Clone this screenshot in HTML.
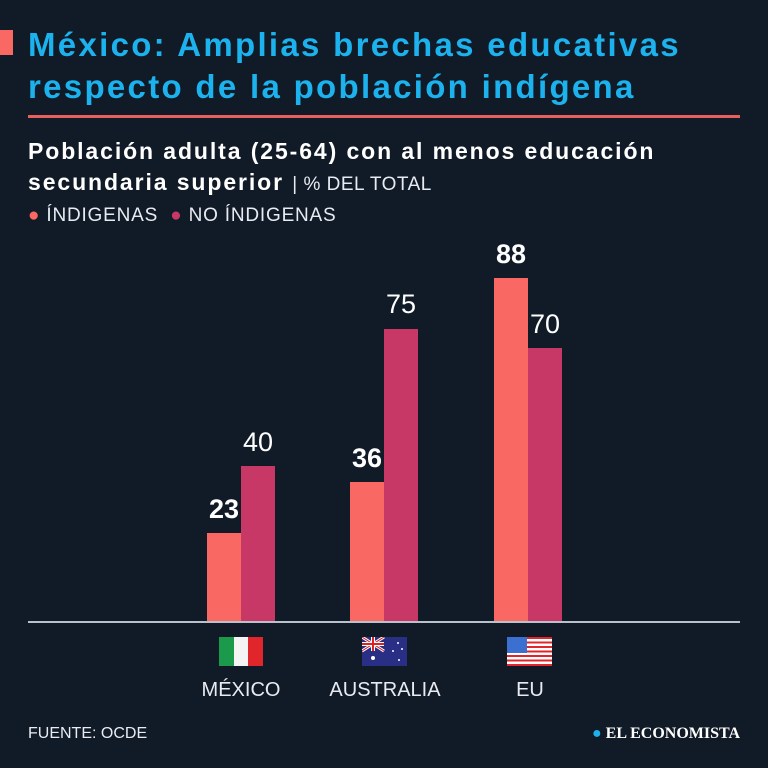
<!DOCTYPE html>
<html><head><meta charset="utf-8"><style>
body{margin:0;width:768px;height:768px;background:#111a27;font-family:"Liberation Sans",sans-serif;position:relative;overflow:hidden;color:#fff}
div{position:absolute}
.t{left:28px;color:#1cb2ee;font-size:33px;font-weight:bold;white-space:nowrap;letter-spacing:2.3px}
.s{left:28px;font-size:23px;font-weight:bold;white-space:nowrap;letter-spacing:1.9px}
.b{width:34px}
.i{background:#fa6863}.n{background:#c73866}
.v{width:60px;text-align:center;font-size:27px}
.bold{font-weight:bold}
.l{width:160px;text-align:center;font-size:20px;top:679px;color:#e8ecf2}
</style></head><body>
<div style="left:0;top:30px;width:13px;height:25px;background:#fa6863"></div>
<div class="t" style="top:26px">México: Amplias brechas educativas</div>
<div class="t" style="top:68px">respecto de la población indígena</div>
<div style="left:28px;top:115px;width:712px;height:3px;background:#e8605d"></div>
<div class="s" style="top:138px">Población adulta (25-64) con al menos educación</div>
<div class="s" style="top:169px">secundaria superior <span style="font-weight:normal;font-size:19px;letter-spacing:0.5px;color:#e8ecf2">| % DEL TOTAL</span></div>
<div style="left:28px;top:205px;font-size:19px;letter-spacing:0.8px;color:#e8ecf2;white-space:nowrap"><span style="color:#fa6863">●</span> ÍNDIGENAS &nbsp;<span style="color:#c73866">●</span> NO ÍNDIGENAS</div>

<div class="b i" style="left:207px;top:533px;height:89px"></div>
<div class="b n" style="left:241px;top:466px;height:156px"></div>
<div class="b i" style="left:350px;top:482px;height:140px"></div>
<div class="b n" style="left:384px;top:329px;height:293px"></div>
<div class="b i" style="left:494px;top:278px;height:344px"></div>
<div class="b n" style="left:528px;top:348px;height:274px"></div>
<div style="left:28px;top:621px;width:712px;height:2px;background:#b9c2cc"></div>

<div class="v bold" style="left:194px;top:494px">23</div>
<div class="v" style="left:228px;top:427px">40</div>
<div class="v bold" style="left:337px;top:443px">36</div>
<div class="v" style="left:371px;top:289px">75</div>
<div class="v bold" style="left:481px;top:239px">88</div>
<div class="v" style="left:515px;top:309px">70</div>

<div style="left:219px;top:637px;width:44px;height:29px;display:flex"><div style="position:static;flex:1;background:#1a9a4a"></div><div style="position:static;flex:1;background:#f4f4f4"></div><div style="position:static;flex:1;background:#e0262a"></div></div>
<div style="left:362px;top:637px;width:45px;height:29px;background:#2a2f86;overflow:hidden">
<svg width="45" height="29"><rect width="22" height="14" fill="#2a2f86"/><path d="M0 0L22 14M22 0L0 14" stroke="#fff" stroke-width="3"/><path d="M0 0L22 14M22 0L0 14" stroke="#d22" stroke-width="1"/><path d="M11 0V14M0 7H22" stroke="#fff" stroke-width="4"/><path d="M11 0V14M0 7H22" stroke="#d22" stroke-width="2"/><g fill="#fff"><circle cx="11" cy="21" r="2"/><circle cx="36" cy="6" r="1"/><circle cx="31" cy="14" r="1"/><circle cx="40" cy="12" r="1"/><circle cx="37" cy="23" r="1"/></g></svg></div>
<div style="left:507px;top:637px;width:45px;height:29px;background:repeating-linear-gradient(#e0262a 0 2.23px,#fff 2.23px 4.46px)"><div style="left:0;top:0;width:20px;height:16px;background:#3b6fd0"></div></div>

<div class="l" style="left:161px">MÉXICO</div>
<div class="l" style="left:305px">AUSTRALIA</div>
<div class="l" style="left:450px">EU</div>
<div style="left:28px;top:725px;font-size:16px;color:#e8ecf2">FUENTE: OCDE</div>
<div style="left:592px;top:725px;font-size:16px;font-family:'Liberation Serif',serif;font-weight:bold;color:#fff;white-space:nowrap"><span style="color:#1cb2ee">●</span> EL ECONOMISTA</div>
</body></html>
